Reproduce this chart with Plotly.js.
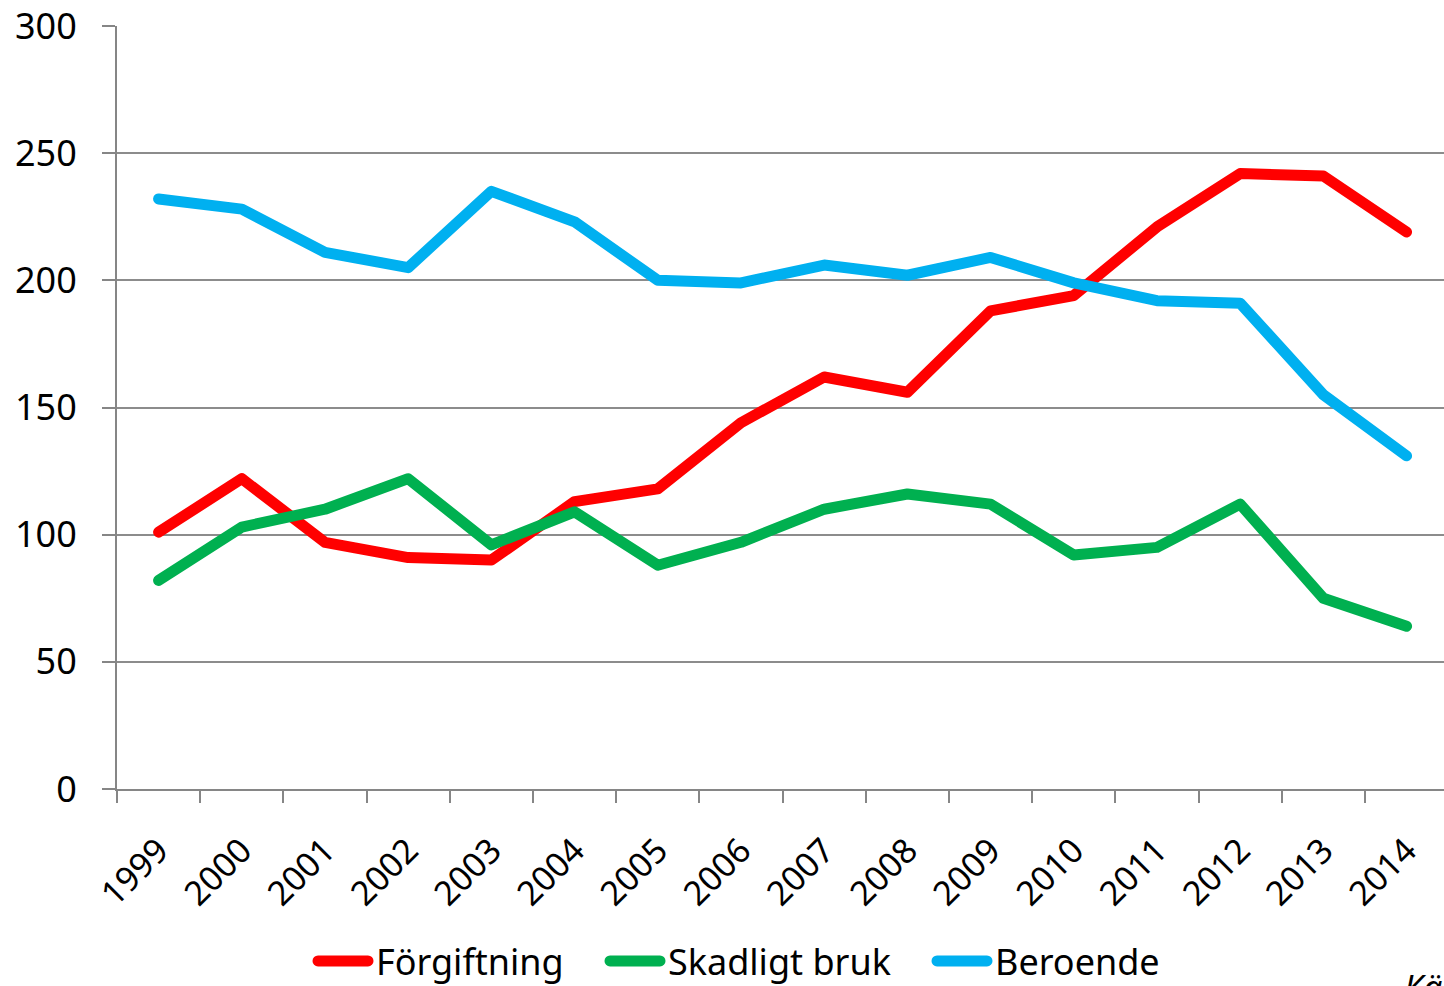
<!DOCTYPE html>
<html>
<head>
<meta charset="utf-8">
<script src="https://cdn.plot.ly/plotly-3.0.1.min.js"></script>
<style>
html, body { margin: 0; padding: 0; background: #fff; }
#chart { width: 1444px; height: 986px; }
.js-line { stroke-linecap: round !important; stroke-linejoin: round !important; }
.legendsymbols path { stroke-linecap: round !important; stroke-width: 11px !important; }
.infolayer g, .infolayer g[class^="legend"] .scrollbox { clip-path: none !important; }
</style>
</head>
<body>
<div id="chart"></div>
<script>
const years = ["1999","2000","2001","2002","2003","2004","2005","2006","2007","2008","2009","2010","2011","2012","2013","2014"];
const forgiftning = [101,122,97,91,90,113,118,144,162,156,188,194,221,242,241,219];
const skadligtBruk = [82,103,110,122,96,109,88,97,110,116,112,92,95,112,75,64];
const beroende = [232,228,211,205,235,223,200,199,206,202,209,199,192,191,155,131];
const seriesNames = ["Förgiftning","Skadligt bruk","Beroende"];
const yTicks = [0,50,100,150,200,250,300];

const FONT = "Noto Sans, Open Sans, sans-serif";
const mk = (name, y, color, leg) => ({
  type: "scatter", mode: "lines", x: years, y: y, name: name, legend: leg,
  line: {color: color, width: 11}, hoverinfo: "skip"
});

const data = [
  mk(seriesNames[0], forgiftning, "#ff0000", "legend"),
  mk(seriesNames[1], skadligtBruk, "#00b050", "legend2"),
  mk(seriesNames[2], beroende, "#00b0f0", "legend3")
];

const plotL = 117, plotW = 1327, plotB = 789, plotH = 763;
const legY = (plotB - 961) / plotH;
const legBase = {
  orientation: "h", y: legY, xanchor: "left", yanchor: "middle",
  font: {family: FONT, size: 36, color: "#000"},
  bgcolor: "rgba(0,0,0,0)", borderwidth: 0
};

const layout = {
  width: 1444, height: 986,
  margin: {l: plotL, r: 0, t: 26, b: 197, pad: 0, autoexpand: false},
  paper_bgcolor: "#fff", plot_bgcolor: "#fff",
  font: {family: FONT, size: 34, color: "#000"},
  showlegend: true,
  legend: Object.assign({}, legBase, {x: (336 - plotL) / plotW}),
  legend2: Object.assign({}, legBase, {x: (628 - plotL) / plotW}),
  legend3: Object.assign({}, legBase, {x: (955 - plotL) / plotW}),
  xaxis: {
    type: "category", range: [-0.5, 15.45], automargin: false,
    tickson: "boundaries", ticks: "outside", ticklen: 12, tickwidth: 2, tickcolor: "#868686",
    tickangle: -45, showgrid: false, zeroline: false,
    showline: true, linecolor: "#868686", linewidth: 2,
    tickfont: {family: FONT, size: 34, color: "#000"},
    ticklabelstandoff: 26,
    fixedrange: true
  },
  yaxis: {
    range: [0, 300], tickvals: yTicks, ticktext: yTicks.map(String), automargin: false,
    ticks: "outside", ticklen: 13, tickwidth: 2, tickcolor: "#868686",
    showgrid: true, gridcolor: "#8c8c8c", gridwidth: 2,
    zeroline: false, showline: true, linecolor: "#868686", linewidth: 2,
    tickfont: {family: FONT, size: 36, color: "#000"},
    ticklabelstandoff: 18,
    fixedrange: true
  },
  annotations: [{
    xref: "paper", yref: "paper", x: (1402 - plotL) / plotW, y: (plotB - 962) / plotH,
    xanchor: "left", yanchor: "top", showarrow: false,
    text: "<i>Källa: Socialstyrelsen</i>",
    font: {family: FONT, size: 34, color: "#000"}
  }]
};

function stretchLegendLines() {
  document.querySelectorAll('#chart .infolayer g[class^="legend"]').forEach(function (lg) {
    lg.removeAttribute("clip-path");
    lg.querySelectorAll("[clip-path]").forEach(function (g) { g.removeAttribute("clip-path"); });
  });
  document.querySelectorAll("#chart .legendlines path").forEach(function (p) {
    p.setAttribute("d", "M-18,0h50");
    p.style.strokeWidth = "11px";
    p.style.strokeLinecap = "round";
  });
}

const gd = document.getElementById("chart");
const pr = Plotly.newPlot(gd, data, layout, {displayModeBar: false, staticPlot: true});
stretchLegendLines();
pr.then(function () {
  stretchLegendLines();
  setTimeout(stretchLegendLines, 0);
  setTimeout(stretchLegendLines, 100);
});
</script>
</body>
</html>
